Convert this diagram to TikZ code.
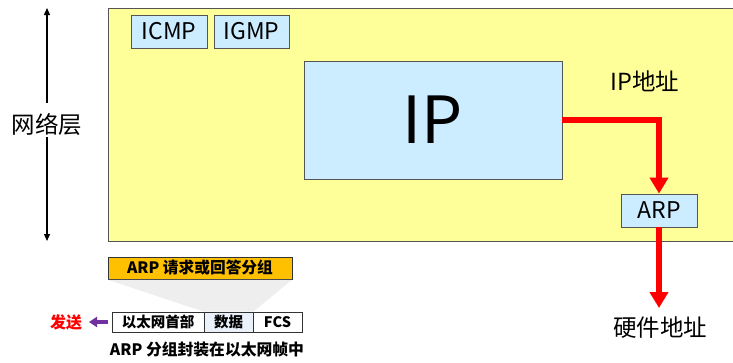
\documentclass[tikz,border=0pt]{standalone}
\usepackage{fontspec}
\setmainfont{Noto Sans CJK SC}
\usetikzlibrary{arrows.meta}
\definecolor{layerY}{HTML}{FFFF99}
\definecolor{boxB}{HTML}{CCECFF}
\definecolor{pktO}{HTML}{FFC000}
\definecolor{dataB}{HTML}{EAF1FB}
\definecolor{trapG}{HTML}{EEEEEE}
\definecolor{purp}{HTML}{7030A0}
\definecolor{edgeG}{HTML}{555555}
\tikzset{
  protobox/.style={draw=edgeG, fill=boxB, line width=0.8pt, inner sep=0pt, font=\fontsize{23}{26}\selectfont},
  framecell/.style={draw=black!80, line width=0.8pt, inner sep=0pt, minimum height=20pt, font=\bfseries\fontsize{14.5}{16}\selectfont},
  redarrow/.style={draw=red, line width=6pt, -{Triangle[width=18pt,length=16pt]}},
  lbl/.style={inner sep=0pt, font=\fontsize{23.5}{26}\selectfont}
}
\begin{document}
\begin{tikzpicture}[x=1pt,y=-1pt]
\useasboundingbox (0,0) rectangle (733,362);
\begin{scope}
\clip (0,0) rectangle (733,362);
\fill[layerY] (108,8) rectangle (745,241);
\draw[edgeG, line width=0.8pt] (745,8) -- (108,8) -- (108,241) -- (745,241);
\end{scope}
% left arrow
\node[lbl] (nl) at (47,125) {网络层};
\coordinate (topL) at (47,8);
\coordinate (botL) at (47,241);
\coordinate (nlT) at (47,103);
\coordinate (nlB) at (47,137);
\draw[line width=1.2pt, -{Triangle[width=6pt,length=7pt]}] (nlT) -- (topL);
\draw[line width=1.2pt, -{Triangle[width=6pt,length=7pt]}] (nlB) -- (botL);
% protocol boxes
\node[protobox, minimum width=76pt, minimum height=33pt] (icmp) at (169,31.5) {ICMP};
\node[protobox, minimum width=75pt, minimum height=33pt] (igmp) at (251.5,31.5) {IGMP};
\node[protobox, minimum width=258pt, minimum height=118pt, font=\fontsize{65}{68}\selectfont] (ip) at (433,120) {IP};
\node[protobox, minimum width=76pt, minimum height=33pt] (arp) at (659,210.5) {ARP};
\node[lbl] (ipaddr) at (645,81) {IP地址};
\node[lbl] (hwaddr) at (660,328) {硬件地址};
\coordinate (hwtip) at (659,308);
\draw[redarrow] (ip.east) -| (arp.north);
\draw[redarrow] (arp.south) -- (hwtip);
% bottom packet
\node[draw=black!80, fill=pktO, line width=0.8pt, minimum width=184pt, minimum height=22pt, inner sep=0pt, font=\bfseries\fontsize{15.7}{17}\selectfont] (pkt) at (200,268) {ARP 请求或回答分组};
\node[framecell, minimum width=92pt] (hdr) at (158,322) {以太网首部};
\node[framecell, minimum width=49pt, fill=dataB] (data) at (228.5,322) {数据};
\node[framecell, minimum width=49pt] (fcs) at (277.5,322) {FCS};
\fill[trapG] ([shift={(0.4,0.4)}]pkt.south west) -- (data.north west) -- (data.north east) -- ([shift={(-0.4,0.4)}]pkt.south east) -- cycle;
\node[framecell, minimum width=49pt, fill=dataB] at (228.5,322) {数据};
\node[inner sep=0pt, text=red, font=\bfseries\fontsize{16}{18}\selectfont] (send) at (66,322) {发送};
\coordinate (pS) at (108,322);
\coordinate (pE) at (89,322);
\draw[purp, line width=4pt, -{Triangle[width=10pt,length=8pt]}] (pS) -- (pE);
\node[inner sep=0pt, font=\bfseries\fontsize{15.8}{18}\selectfont] (cap) at (207,350) {ARP 分组封装在以太网帧中};
\end{tikzpicture}
\end{document}
